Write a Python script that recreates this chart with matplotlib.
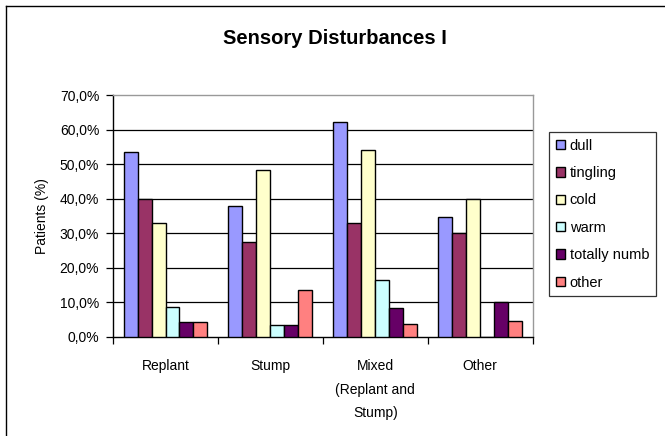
import matplotlib
matplotlib.use("Agg")
import matplotlib.pyplot as plt
import numpy as np
from matplotlib.ticker import FuncFormatter
from matplotlib.lines import Line2D

plt.rcParams['font.family'] = ['Liberation Sans', 'DejaVu Sans']

categories = ["Replant", "Stump", "Mixed\n(Replant and\nStump)", "Other"]
series_names = ["dull", "tingling", "cold", "warm", "totally numb", "other"]
dull = [53.4, 37.9, 62.3, 34.8]
tingling = [40.0, 27.4, 33.1, 30.0]
cold = [33.1, 48.2, 54.2, 40.0]
warm = [8.8, 3.5, 16.5, 0.0]
totally_numb = [4.3, 3.5, 8.3, 10.0]
other = [4.3, 13.7, 3.9, 4.7]
series = [dull, tingling, cold, warm, totally_numb, other]
colors = ["#9999FF", "#993366", "#FFFFCC", "#CCFFFF", "#660066", "#FF8080"]
yticks = [0, 10, 20, 30, 40, 50, 60, 70]

FS = 10

fig = plt.figure(figsize=(6.65, 4.36), dpi=100)
ax = fig.add_axes([0.170, 0.2271, 0.631, 0.555])

n = len(series)
group = 0.8
bw = group / n
x = np.arange(len(categories))
for i, (vals, c, name) in enumerate(zip(series, colors, series_names)):
    ax.bar(x - group / 2 + bw * (i + 0.5), vals, bw, color=c, edgecolor="black",
           linewidth=1.0, label=name, zorder=3)

ax.set_xlim(-0.5, len(categories) - 0.5)
ax.set_ylim(0, 70)
ax.set_yticks(yticks)
ax.yaxis.set_major_formatter(FuncFormatter(lambda v, p: f"{v:.1f}%".replace(".", ",")))
for t in yticks[1:-1]:
    ax.axhline(t, color="black", linewidth=0.9, zorder=1)

ax.set_xticks(x)
ax.set_xticklabels(categories, linespacing=1.85)
ax.set_xticks(np.arange(len(categories) + 1) - 0.5, minor=True)
ax.tick_params(axis="x", which="major", length=0, pad=16, labelsize=FS)
ax.tick_params(axis="x", which="minor", length=5, width=0.9, direction="out")
ax.tick_params(axis="y", length=5, width=0.9, direction="out", labelsize=FS, pad=5)

ax.spines["left"].set_color("black")
ax.spines["bottom"].set_color("black")
ax.spines["top"].set_color("#999999")
ax.spines["right"].set_color("#999999")
for s in ax.spines.values():
    s.set_linewidth(1.0)

ax.set_ylabel("Patients (%)", fontsize=FS, labelpad=8)

fig.text(0.504, 1 - 38 / 436, "Sensory Disturbances I", ha="center", va="center",
         fontsize=14.5, fontweight="bold")

leg = fig.legend(loc="upper left", bbox_to_anchor=(549 / 665, 1 - 132 / 436),
                 frameon=True, fancybox=False, fontsize=10.5, handlelength=0.62,
                 handleheight=0.62, handletextpad=0.35, labelspacing=0.92,
                 borderpad=0.45, borderaxespad=0)
leg.get_frame().set_edgecolor("black")
leg.get_frame().set_linewidth(0.9)

# outer chart border
fig.add_artist(Line2D([6 / 665, 6 / 665], [0, 1 - 6 / 436], transform=fig.transFigure,
                      color="black", linewidth=1.0))
fig.add_artist(Line2D([6 / 665, 1], [1 - 6 / 436, 1 - 6 / 436], transform=fig.transFigure,
                      color="black", linewidth=1.0))

fig.savefig("out.png", dpi=100)
